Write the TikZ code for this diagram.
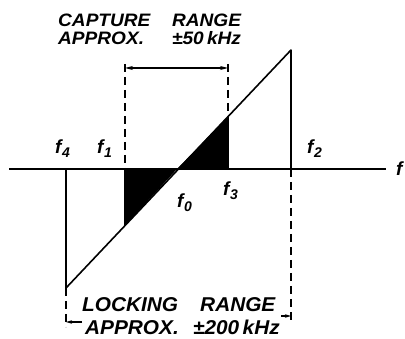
\documentclass[tikz,border=0pt]{standalone}
\usepackage{fontspec}
\setmainfont{Liberation Sans}
\usetikzlibrary{arrows.meta}
\newcommand{\fl}[1]{{\fontsize{19pt}{19pt}\selectfont\bfseries\itshape f\kern0.5pt\raisebox{-0.35ex}{\fontsize{14pt}{14pt}\selectfont #1}}}
\tikzset{
  curve/.style={line width=1.6pt, line join=round},
  axisline/.style={line width=2pt},
  guide/.style={line width=1.2pt, dash pattern=on 8pt off 5pt},
  dim/.style={line width=1.2pt, -{Stealth[length=8pt,width=4pt]}},
  lbl/.style={inner sep=0pt, anchor=base west},
}
\begin{document}
\begin{tikzpicture}[x=1pt,y=-1pt]
\useasboundingbox (0,0) rectangle (405,339);
% key points
\coordinate (A0) at (9,169);
\coordinate (A1) at (386,169);
\coordinate (L0) at (66,169);
\coordinate (L1) at (66,288);
\coordinate (R1) at (291,50);
\coordinate (R0) at (291,169);
\coordinate (F0) at (177,169);
\coordinate (C1a) at (125,169);
\coordinate (C1b) at (125,225.6);
\coordinate (C1t) at (125,64);
\coordinate (C3a) at (228,169);
\coordinate (C3b) at (228,116.6);
\coordinate (C3t) at (228,64);
\coordinate (LB) at (66,327);
\coordinate (RB) at (291,323);
% shaded triangles
\fill (C1a) -- (F0) -- (C1b) -- cycle;
\fill (F0) -- (C3a) -- (C3b) -- cycle;
% axis
\draw[axisline] (A0) -- (A1);
% curve
\draw[curve] (L0) -- (L1) -- (R1) -- (R0);
\draw[curve] (C3b) -- (C3a);
\draw[curve] (C1b) -- (C1a);
% guides
\draw[guide] (C1t) -- (C1a);
\draw[guide] (C3t) -- (C3b);
\draw[guide] (L1) -- (LB);
\draw[guide] (R0) -- (RB);
% capture range arrow
\coordinate (CA1) at (125,68);
\coordinate (CA3) at (228,68);
\coordinate (CAm) at (176,68);
\draw[dim] (CAm) -- (CA1);
\draw[dim] (CAm) -- (CA3);
% locking range arrows
\coordinate (LA0) at (66,322);
\coordinate (LAs) at (82,322);
\coordinate (RA0) at (291,316);
\coordinate (RAs) at (281,316);
\draw[line width=1.2pt, -{Stealth[length=6pt,width=3.5pt]}] (LAs) -- (LA0);
\draw[line width=1.2pt, -{Stealth[length=6pt,width=3.5pt]}] (RAs) -- (RA0);
% texts
\node[lbl] (cap) at (58,26.7) {\scalebox{1.06}[1]{\fontsize{18pt}{18pt}\selectfont\bfseries\itshape
  \vtop{\baselineskip=17.6pt\lineskiplimit=-100pt\lineskip=0pt
    \hbox{\makebox[107.5pt][l]{CAPTURE}RANGE}
    \hbox{\makebox[107.5pt][l]{APPROX.}±50\,kHz}}}};
\node[lbl] (lock) at (82,311.7) {\scalebox{1.04}[1]{\fontsize{20pt}{20pt}\selectfont\bfseries\itshape
  \vtop{\baselineskip=23.3pt\lineskiplimit=-100pt\lineskip=0pt
    \hbox{\makebox[113.5pt][l]{LOCKING}RANGE}
    \hbox{\hspace*{2.9pt}\makebox[103.8pt][l]{APPROX.}±200\,kHz}}}};
% frequency labels
\node[lbl] (f4) at (55,154) {\fl{4}};
\node[lbl] (f1) at (97,154) {\fl{1}};
\node[lbl] (f2) at (307,154) {\fl{2}};
\node[lbl] (f0) at (177,208) {\fl{0}};
\node[lbl] (f3) at (223,196) {\fl{3}};
\node[lbl] (ff) at (396,176) {{\fontsize{19pt}{19pt}\selectfont\bfseries\itshape f}};
\end{tikzpicture}
\end{document}
